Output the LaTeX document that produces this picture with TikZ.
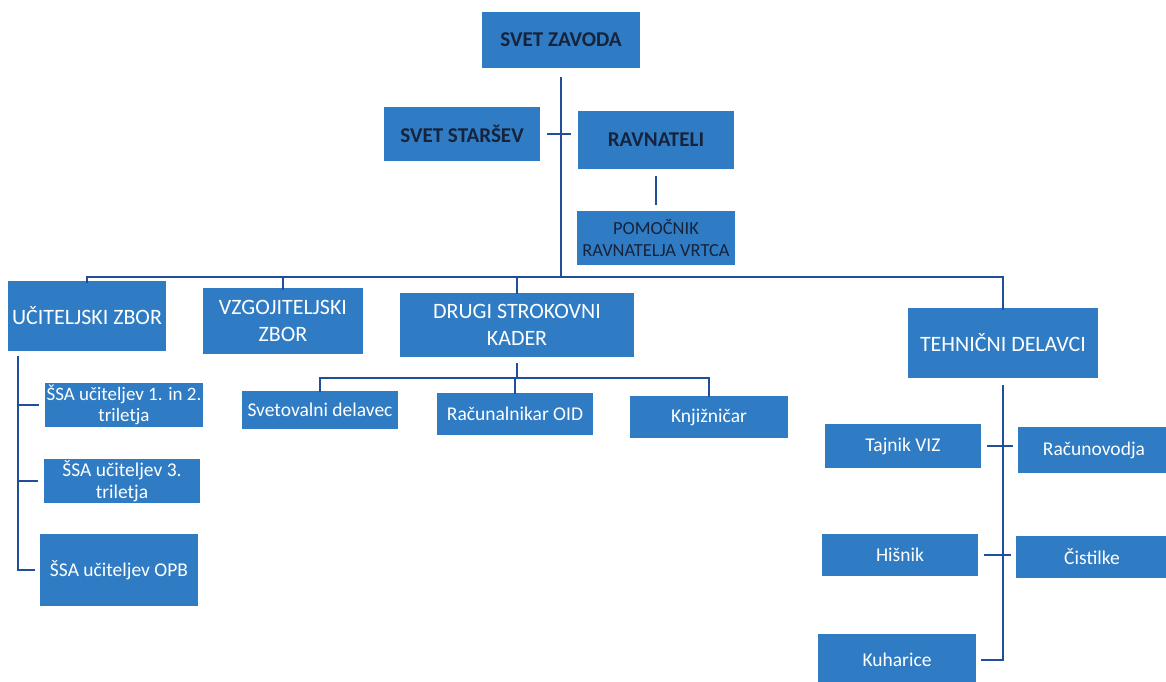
\documentclass[tikz,border=0pt]{standalone}
\usepackage{fontspec}
\setmainfont{Carlito}
\usetikzlibrary{positioning, calc}

\definecolor{boxblue}{HTML}{2F7CC4}
\definecolor{lineblue}{HTML}{1F4E9A}
\definecolor{darktext}{HTML}{17223B}

\begin{document}
\begin{tikzpicture}[
					x=0.02cm, y=-0.02cm,
					unit/.style={fill=boxblue, text=white, align=center, inner sep=1pt},
					head/.style={unit, text=darktext, font=\bfseries\fontsize{12}{14}\selectfont},
					dept/.style={unit, font=\fontsize{12.5}{15.5}\selectfont},
					staff/.style={unit, font=\fontsize{11.1}{12.2}\selectfont},
					link/.style={draw=lineblue, line width=1.3pt}
					]
					\useasboundingbox (0,0) rectangle (1166,682);
					% top
					\node[head, minimum width=158*0.567pt, minimum height=56*0.567pt] (zavod) at (561,40) {SVET ZAVODA};
					\node[head, minimum width=156*0.567pt, minimum height=54*0.567pt] (starsi) at (462,134) {SVET STARŠEV};
					\node[head, minimum width=156*0.567pt, minimum height=58*0.567pt] (ravn) at (656,140) {RAVNATELI};
					\node[head, font=\fontsize{10.5}{12.5}\selectfont, minimum width=158*0.567pt, minimum height=55*0.567pt] (pomoc) at (656,238) {POMOČNIK\\RAVNATELJA VRTCA};
					% departments
					\node[dept, minimum width=158*0.567pt, minimum height=70*0.567pt] (ucit) at (87,316) {UČITELJSKI ZBOR};
					\node[dept, minimum width=160*0.567pt, minimum height=66*0.567pt] (vzgoj) at (283,321) {VZGOJITELJSKI\\ZBOR};
					\node[dept, minimum width=235*0.567pt, minimum height=65*0.567pt] (drugi) at (517,325) {DRUGI STROKOVNI\\KADER};
					\node[dept, minimum width=190*0.567pt, minimum height=70*0.567pt] (tehn) at (1003,343) {TEHNIČNI DELAVCI};
					% teachers
					\node[staff, font=\fontsize{10.8}{12}\selectfont, minimum width=158*0.567pt, minimum height=45*0.567pt] (ssaA) at (124,405) {ŠSA učiteljev 1. in 2.\\triletja};
					\node[staff, minimum width=157*0.567pt, minimum height=42*0.567pt] (ssaB) at (122,481) {ŠSA učiteljev 3.\\triletja};
					\node[staff, minimum width=158*0.567pt, minimum height=72*0.567pt] (ssaC) at (119,570) {ŠSA učiteljev OPB};
					% other staff
					\node[staff, minimum width=157*0.567pt, minimum height=38*0.567pt] (svetov) at (320,410) {Svetovalni delavec};
					\node[staff, minimum width=157*0.567pt, minimum height=42*0.567pt] (racun) at (515,414) {Računalnikar OID};
					\node[staff, minimum width=158*0.567pt, minimum height=42*0.567pt] (knjiz) at (709,417) {Knjižničar};
					% technical
					\node[staff, minimum width=157*0.567pt, minimum height=45*0.567pt] (tajnik) at (903,446) {Tajnik VIZ};
					\node[staff, minimum width=152*0.567pt, minimum height=47*0.567pt] (racvod) at (1094,450) {Računovodja};
					\node[staff, minimum width=157*0.567pt, minimum height=42*0.567pt] (hisnik) at (900,555) {Hišnik};
					\node[staff, minimum width=152*0.567pt, minimum height=42*0.567pt] (cist) at (1092,557) {Čistilke};
					\node[staff, minimum width=158*0.567pt, minimum height=52*0.567pt] (kuhar) at (897,660) {Kuharice};

					\coordinate (bus) at (561,277);
					\coordinate (lspine) at (18,356);
					\coordinate (bus2) at (517,378);
					% connectors
					\draw[link] ([yshift=-5pt]zavod.south) -- (bus);
					\draw[link] ([xshift=4pt]starsi.east) -- ([xshift=-4pt]ravn.west |- starsi.east);
					\draw[link] ([yshift=-4pt]ravn.south) -- ([yshift=3pt]pomoc.north);
					\draw[link] ([yshift=-1pt]ucit.north) |- (bus) -| ([yshift=-1pt]tehn.north);
					\draw[link] ([yshift=-1pt]vzgoj.north) -- (vzgoj.north |- bus);
					\draw[link] ([yshift=-1pt]drugi.north) -- (drugi.north |- bus);
					\draw[link] (lspine) |- ([xshift=-3pt]ssaC.west);
					\draw[link] (lspine |- ssaA.west) -- ([xshift=-3pt]ssaA.west);
					\draw[link] (lspine |- ssaB.west) -- ([xshift=-3pt]ssaB.west);
					\draw[link] ([yshift=-3pt]drugi.south) -- (bus2);
					\draw[link] ([yshift=-1pt]svetov.north) |- (bus2) -| ([yshift=-1pt]knjiz.north);
					\draw[link] ([yshift=-1pt]racun.north) -- (racun.north |- bus2);
					\draw[link] ([yshift=-4pt]tehn.south) |- ([xshift=3pt]kuhar.east);
					\draw[link] ([xshift=3pt]tajnik.east) -- ([xshift=-3pt]racvod.west |- tajnik.east);
					\draw[link] ([xshift=3pt]hisnik.east) -- ([xshift=-3pt]cist.west |- hisnik.east);
				\end{tikzpicture}
\end{document}
